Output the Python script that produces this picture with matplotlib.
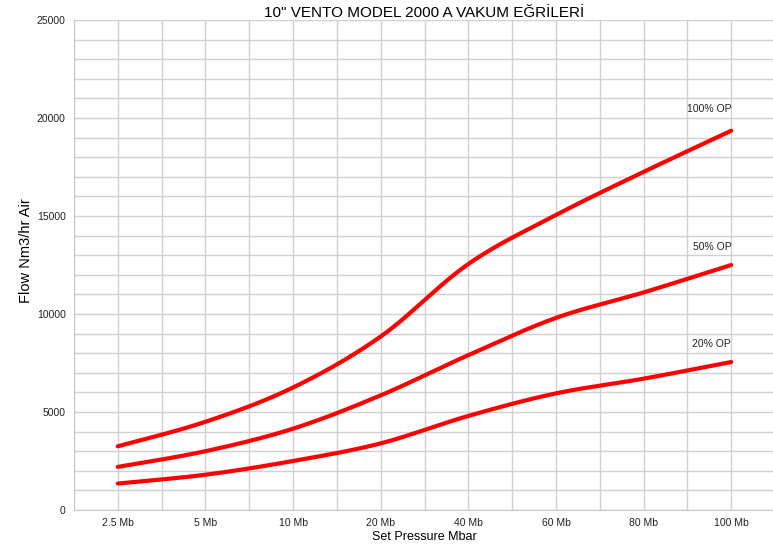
import numpy as np
import matplotlib.pyplot as plt
from matplotlib.ticker import MultipleLocator

plt.rcParams['font.family'] = ['Liberation Sans', 'DejaVu Sans']

# data
pressures = ['2.5 Mb', '5 Mb', '10 Mb', '20 Mb', '40 Mb', '60 Mb', '80 Mb', '100 Mb']
flow_100 = [3250, 4500, 6250, 8850, 12550, 15050, 17250, 19350]
flow_50 = [2200, 3000, 4150, 5850, 7900, 9800, 11100, 12500]
flow_20 = [1350, 1800, 2500, 3400, 4800, 5950, 6700, 7550]
series_names = ['100% OP', '50% OP', '20% OP']
label_offsets = [1100, 900, 900]


def smooth(ys, n=40):
    # excel-like smoothed line (catmull-rom as bezier)
    p = np.column_stack([np.arange(len(ys)), ys]).astype(float)
    p = np.vstack([p[0], p, p[-1]])
    t = np.linspace(0, 1, n)[:, None]
    out = []
    for i in range(1, len(p) - 2):
        p0, p1, p2, p3 = p[i - 1], p[i], p[i + 1], p[i + 2]
        c1 = p1 + (p2 - p0) / 6
        c2 = p2 - (p3 - p1) / 6
        seg = ((1 - t) ** 3) * p1 + 3 * ((1 - t) ** 2) * t * c1 + 3 * (1 - t) * t ** 2 * c2 + t ** 3 * p2
        out.append(seg)
    out = np.vstack(out)
    return out[:, 0], out[:, 1]


fig = plt.figure(figsize=(7.73, 5.52), dpi=100)
ax = fig.add_axes([74 / 773, 42 / 552, 701 / 773, 490 / 552])

for ys, name, off in zip([flow_100, flow_50, flow_20], series_names, label_offsets):
    sx, sy = smooth(ys)
    ax.plot(sx, sy, color='#ff0000', linewidth=3, solid_capstyle='round')
    ax.text(len(ys) - 1, ys[-1] + off, name, ha='right', va='center', fontsize=7.5, color='#222222')

ax.set_xlim(-0.5, 7.5)
ax.set_ylim(0, 25000)
ax.set_xticks(range(len(pressures)))
ax.set_xticklabels(pressures)
ax.xaxis.set_minor_locator(MultipleLocator(0.5))
ax.yaxis.set_major_locator(MultipleLocator(5000))
ax.yaxis.set_minor_locator(MultipleLocator(1000))
ax.grid(True, which='both', color='#d0d0d0', linewidth=1)
ax.set_axisbelow(True)
ax.tick_params(which='both', length=0, labelsize=7.5, colors='#222222', pad=6)
for s in ['top', 'right']:
    ax.spines[s].set_visible(False)
for s in ['left', 'bottom']:
    ax.spines[s].set_color('#c8c8c8')

ax.set_title('10" VENTO MODEL 2000 A VAKUM EĞRİLERİ', fontsize=11, pad=2)
ax.set_xlabel('Set Pressure Mbar', fontsize=9, labelpad=2)
ax.set_ylabel('Flow Nm3/hr Air', fontsize=10.5)
ax.yaxis.set_label_coords(-0.058, 0.53)

plt.savefig('out.png', dpi=100)
